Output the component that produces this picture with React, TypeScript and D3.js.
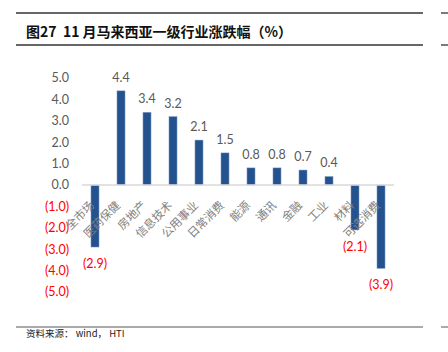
import React from "react";
import * as d3 from "d3";

const categories = ["全市场", "医药保健", "房地产", "信息技术", "公用事业", "日常消费", "能源", "通讯", "金融", "工业", "材料", "可选消费"];
const values = [-2.9, 4.4, 3.4, 3.2, 2.1, 1.5, 0.8, 0.8, 0.7, 0.4, -2.1, -3.9];
const yTicks = [5, 4, 3, 2, 1, 0, -1, -2, -3, -4, -5];
const title = "图27  11 月马来西亚一级行业涨跌幅（%）";
const source = "资料来源： wind， HTI";

const fmt = (v: number) => (v < 0 ? `(${Math.abs(v).toFixed(1)})` : v.toFixed(1));

export default function App() {
  const W = 448, H = 352;
  const x = d3.scaleBand<string>().domain(categories).range([82, 394]).paddingInner(0.69).paddingOuter(0.345);
  const y = d3.scaleLinear().domain([-5, 5]).range([292, 78]);
  const numFont = "Lato, 'Open Sans', sans-serif";
  const cjk = "'Noto Sans CJK SC', sans-serif";
  return (
    <svg width={W} height={H} style={{ position: "absolute", left: 0, top: 0, background: "#fff" }}>
      <line x1={16} x2={423} y1={13} y2={13} stroke="#333" strokeWidth={1.3} />
      <line x1={441} x2={448} y1={13} y2={13} stroke="#333" strokeWidth={1.3} />
      <line x1={16} x2={423} y1={45} y2={45} stroke="#333" strokeWidth={1.3} />
      <line x1={441} x2={448} y1={45} y2={45} stroke="#333" strokeWidth={1.3} />
      <text x={26} y={37} fontFamily={cjk} fontWeight="bold" fontSize={14} fill="#111" style={{ whiteSpace: "pre" }}>{title}</text>

      {yTicks.map((t) => (
        <text key={t} x={69} y={y(t)} dy="0.35em" textAnchor="end" fontFamily={numFont} fontSize={12.5}
          fill={t < 0 ? "#ff0000" : "#595959"}>{fmt(t)}</text>
      ))}

      {categories.map((c, i) => {
        const v = values[i];
        const bx = x(c)!;
        const bw = x.bandwidth();
        const y0 = y(0), y1 = y(v);
        return (
          <g key={c}>
            <rect x={bx} y={Math.min(y0, y1)} width={bw} height={Math.abs(y1 - y0)} fill="#23528e" stroke="#8fa9cf" strokeWidth={0.5} />
            <text x={bx + bw / 2} y={v >= 0 ? y1 - 9 : y1 + 21} textAnchor="middle" fontFamily={numFont} fontSize={12.5}
              fill={v < 0 ? "#ff0000" : "#595959"}>{fmt(v)}</text>
          </g>
        );
      })}
      <line x1={82} x2={394} y1={y(0)} y2={y(0)} stroke="#d9d9d9" strokeWidth={1.5} />

      {categories.map((c) => {
        const cx = x(c)! + x.bandwidth() / 2;
        return (
          <text key={c} transform={`translate(${cx},${y(0) + 21}) rotate(-45)`} textAnchor="end"
            fontFamily={cjk} fontSize={11.5} fill="#808080">{c}</text>
        );
      })}

      <line x1={16} x2={423} y1={327} y2={327} stroke="#555" strokeWidth={1} />
      <line x1={441} x2={448} y1={327} y2={327} stroke="#555" strokeWidth={1} />
      <text x={26} y={337} fontFamily={cjk} fontSize={9.5} fill="#222" style={{ whiteSpace: "pre" }}>{source}</text>
    </svg>
  );
}
